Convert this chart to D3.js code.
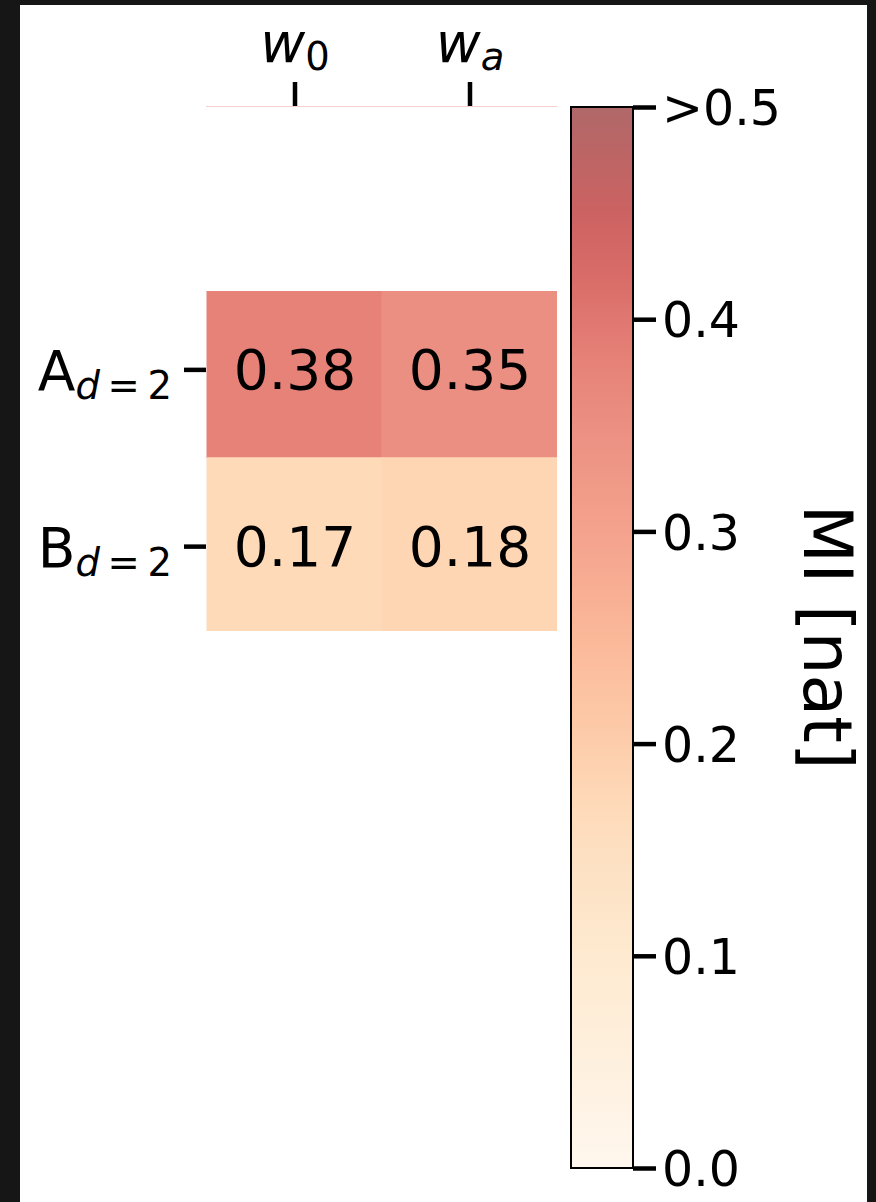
<!DOCTYPE html>
<html>
<head>
<meta charset="utf-8">
<script src="https://cdn.jsdelivr.net/npm/d3@7"></script>
<style>
  html, body { margin: 0; padding: 0; background: #161616; }
  svg { display: block; }
  text { font-family: "DejaVu Sans", sans-serif; fill: #000; }
</style>
</head>
<body>
<svg id="chart" width="876" height="1202"></svg>
<script>
// ---- data ----
const rows = ["A", "B"];            // row labels (main letter, subscript d = 2)
const rowSub = "d\u2009=\u20092";
const cols = ["0", "a"];            // column labels: w_0, w_a
const valuesA = [0.38, 0.35];
const valuesB = [0.17, 0.18];
const cbTicks = [0.0, 0.1, 0.2, 0.3, 0.4, 0.5];
const colorStops = [0.0, 0.05, 0.1, 0.15, 0.17, 0.2, 0.25, 0.3, 0.35, 0.38, 0.42, 0.45, 0.5];
const colorValues = ["#fff7ee", "#fef0de", "#feead0", "#fddfc1", "#fedab9", "#fdcdab", "#fbb899",
                     "#f4a28d", "#eb8f82", "#e68278", "#d96c68", "#cc6262", "#b06868"];
const cbLabel = "MI [nat]";

const matrix = [valuesA, valuesB];
const cells = [];
rows.forEach((r, i) => cols.forEach((c, j) => cells.push({row: r, col: c, value: matrix[i][j]})));

const svg = d3.select("#chart");
svg.append("rect").attr("x", 20).attr("y", 5).attr("width", 847).attr("height", 1197).attr("fill", "#fff");

const color = d3.scaleLinear().domain(colorStops).range(colorValues).interpolate(d3.interpolateRgb).clamp(true);

// heatmap scales
const x = d3.scaleBand().domain(cols).range([207.5, 557.5]);
const y = d3.scaleBand().domain(rows).range([281.5, 635]);

svg.append("defs").append("clipPath").attr("id", "axclip")
  .append("rect").attr("x", 206).attr("y", 291).attr("width", 351).attr("height", 340);

const g = svg.append("g");
g.append("g").attr("clip-path", "url(#axclip)")
  .selectAll("rect").data(cells).join("rect")
  .attr("x", d => x(d.col) - 1).attr("y", d => y(d.row) - 1)
  .attr("width", x.bandwidth() + 1).attr("height", y.bandwidth() + 1)
  .attr("fill", d => color(d.value));

g.selectAll("text.val").data(cells).join("text").attr("class", "val")
  .attr("x", d => x(d.col) + x.bandwidth() / 2)
  .attr("y", d => y(d.row) + y.bandwidth() / 2)
  .attr("text-anchor", "middle").attr("dominant-baseline", "central")
  .attr("font-size", 55)
  .text(d => d.value.toFixed(2));

// faint top edge
svg.append("line").attr("x1", 206).attr("x2", 557).attr("y1", 106.5).attr("y2", 106.5)
  .attr("stroke", "#f6cfcf").attr("stroke-width", 1);

// top x axis
const xAxis = svg.append("g").attr("transform", "translate(0,106)")
  .call(d3.axisTop(x).tickSize(24).tickPadding(10).tickFormat(""));
xAxis.select(".domain").remove();
xAxis.selectAll(".tick line").attr("stroke", "#000").attr("stroke-width", 4.5);
xAxis.selectAll(".tick").append("text").attr("y", -44).attr("text-anchor", "middle")
  .attr("font-size", 55)
  .each(function(d) {
    const t = d3.select(this);
    t.append("tspan").attr("font-style", "italic").text("w");
    t.append("tspan").attr("font-size", 38.5).attr("dy", 8).attr("font-style", d === "a" ? "italic" : "normal").text(d);
  });

// left y axis
const yAxis = svg.append("g").attr("transform", "translate(206,0)")
  .call(d3.axisLeft(y).tickSize(22).tickPadding(10).tickFormat(""));
yAxis.select(".domain").remove();
yAxis.selectAll(".tick line").attr("stroke", "#000").attr("stroke-width", 4.5);
yAxis.selectAll(".tick").append("text").attr("x", -34).attr("y", 20).attr("text-anchor", "end")
  .attr("font-size", 55)
  .each(function(d) {
    const t = d3.select(this);
    t.append("tspan").text(d);
    t.append("tspan").attr("font-size", 38.5).attr("dy", 9).attr("font-style", "italic").text("d");
    t.append("tspan").attr("font-size", 38.5).text("\u2009=\u20092");
  });

// colorbar
const cbX = 571, cbW = 62;
const cy = d3.scaleLinear().domain([0, 0.5]).range([1168, 107]);
const grad = svg.select("defs").append("linearGradient").attr("id", "cbgrad")
  .attr("x1", 0).attr("x2", 0).attr("y1", 1).attr("y2", 0);
grad.selectAll("stop").data(colorStops).join("stop")
  .attr("offset", d => d / 0.5).attr("stop-color", d => color(d));
svg.append("rect").attr("x", cbX).attr("y", cy(0.5)).attr("width", cbW).attr("height", cy(0) - cy(0.5))
  .attr("fill", "url(#cbgrad)").attr("stroke", "#000").attr("stroke-width", 2);

const cbAxis = svg.append("g").attr("transform", `translate(${cbX + cbW},0)`)
  .call(d3.axisRight(cy).tickValues(cbTicks).tickSize(23).tickPadding(6)
    .tickFormat(d => d === 0.5 ? ">0.5" : d3.format(".1f")(d)));
cbAxis.select(".domain").remove();
cbAxis.selectAll(".tick line").attr("stroke", "#000").attr("stroke-width", 4.5);
cbAxis.selectAll(".tick text").attr("font-size", 49).attr("font-family", "DejaVu Sans").attr("fill", "#000")
  .attr("dy", "0.36em");

svg.append("text").attr("transform", "translate(804,637) rotate(90)")
  .attr("text-anchor", "middle").attr("font-size", 68).text(cbLabel);
</script>
</body>
</html>
